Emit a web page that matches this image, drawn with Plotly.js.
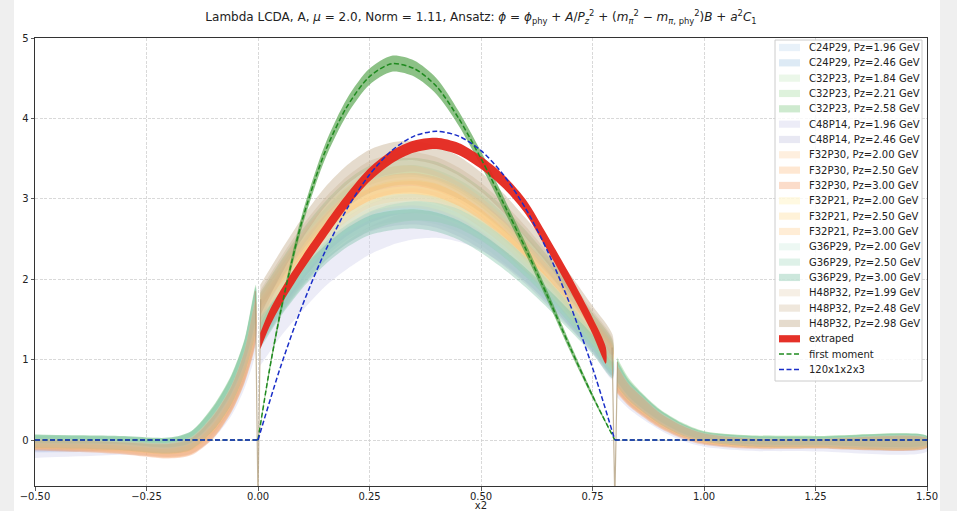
<!DOCTYPE html>
<html><head><meta charset="utf-8">
<script src="https://cdn.plot.ly/plotly-3.0.1.min.js"></script>
<style>
html,body{margin:0;padding:0;background:#efefef;}
#chart{position:absolute;left:14px;top:0;width:926px;height:511px;background:#fff;}
</style>
</head><body><div id="chart"></div>
<script>
// ---------------- data ----------------
// shared x grid for the lattice bands: left tail | physical region | right tail
const xGrid = [-0.5,-0.4,-0.3,-0.2,-0.15,-0.1,-0.06,-0.03,-0.005,
  0.005,0.05,0.1,0.15,0.2,0.25,0.3,0.35,0.4,0.45,0.5,0.55,0.6,0.65,0.7,0.75,0.795,
  0.805,0.83,0.86,0.9,0.95,1.0,1.1,1.25,1.5];
const bandHalfWidth = [0.05,0.05,0.05,0.06,0.07,0.09,0.11,0.14,0.19,
  0.19,0.15,0.13,0.12,0.12,0.12,0.12,0.12,0.12,0.12,0.12,0.12,0.12,0.12,0.12,0.12,0.13,
  0.13,0.10,0.09,0.07,0.06,0.05,0.05,0.05,0.05];

const bandLabels = ["C24P29, Pz=1.96 GeV","C24P29, Pz=2.46 GeV","C32P23, Pz=1.84 GeV","C32P23, Pz=2.21 GeV",
  "C32P23, Pz=2.58 GeV","C48P14, Pz=1.96 GeV","C48P14, Pz=2.46 GeV","F32P30, Pz=2.00 GeV","F32P30, Pz=2.50 GeV",
  "F32P30, Pz=3.00 GeV","F32P21, Pz=2.00 GeV","F32P21, Pz=2.50 GeV","F32P21, Pz=3.00 GeV","G36P29, Pz=2.00 GeV",
  "G36P29, Pz=2.50 GeV","G36P29, Pz=3.00 GeV","H48P32, Pz=1.99 GeV","H48P32, Pz=2.48 GeV","H48P32, Pz=2.98 GeV"];
const bandWidthScale = [1,1,1,1,1,1.45,1,1,1,1,1,1,1,1,1,1,1,1,1];

const band_C24P29_196 = [-0.11,-0.1,-0.09,-0.11,-0.06,0.16,0.48,0.88,1.42, 1.38,1.74,2.09,2.39,2.61,2.76,2.83,2.85,2.80,2.70,2.54,2.33,2.09,1.82,1.53,1.23,0.93, 0.74,0.55,0.41,0.24,0.09,0.0,-0.05,-0.06,-0.05];
const band_C24P29_246 = [-0.09,-0.08,-0.07,-0.09,-0.04,0.2,0.52,0.92,1.48, 1.40,1.76,2.12,2.43,2.66,2.82,2.91,2.94,2.91,2.82,2.66,2.45,2.20,1.92,1.61,1.29,0.98, 0.77,0.57,0.43,0.26,0.11,0.02,-0.03,-0.04,-0.04];
const band_C32P23_184 = [0.0,-0.01,-0.02,-0.05,0.02,0.3,0.66,1.08,1.68, 1.53,1.92,2.31,2.64,2.89,3.05,3.13,3.15,3.10,2.98,2.81,2.58,2.31,2.02,1.69,1.36,1.03, 0.85,0.64,0.48,0.3,0.14,0.05,0.0,-0.01,-0.01];
const band_C32P23_221 = [0.01,0.0,-0.01,-0.04,0.03,0.32,0.68,1.1,1.7, 1.60,2.01,2.42,2.76,3.02,3.19,3.28,3.30,3.24,3.12,2.94,2.70,2.42,2.11,1.77,1.42,1.08, 0.87,0.66,0.49,0.31,0.15,0.06,0.01,0.0,0.0];
const band_C32P23_258 = [0.02,0.01,0.0,-0.03,0.04,0.34,0.7,1.12,1.74, 1.64,2.07,2.49,2.84,3.11,3.29,3.37,3.39,3.34,3.21,3.02,2.78,2.49,2.17,1.82,1.46,1.11, 0.9,0.68,0.5,0.32,0.16,0.06,0.01,0.0,0.0];
const band_C48P14_196 = [-0.15,-0.13,-0.11,-0.12,-0.07,0.15,0.46,0.85,1.38, 1.2,1.5,1.8,2.08,2.3,2.48,2.6,2.67,2.69,2.64,2.53,2.36,2.14,1.88,1.58,1.26,0.94, 0.72,0.54,0.4,0.23,0.08,-0.01,-0.06,-0.07,-0.07];
const band_C48P14_246 = [-0.1,-0.09,-0.08,-0.1,-0.05,0.18,0.5,0.9,1.45, 1.36,1.71,2.06,2.35,2.56,2.71,2.78,2.80,2.76,2.65,2.49,2.29,2.06,1.79,1.51,1.21,0.92, 0.75,0.56,0.42,0.25,0.1,0.01,-0.04,-0.05,-0.05];
const band_F32P30_200 = [-0.06,-0.08,-0.11,-0.15,-0.1,0.13,0.47,0.87,1.44, 1.46,1.83,2.21,2.52,2.75,2.91,2.99,3.01,2.96,2.85,2.68,2.46,2.21,1.93,1.62,1.30,0.99, 0.73,0.55,0.41,0.24,0.1,0.01,-0.04,-0.05,-0.04];
const band_F32P30_250 = [-0.07,-0.09,-0.12,-0.16,-0.11,0.12,0.46,0.86,1.42, 1.50,1.89,2.28,2.60,2.84,3.01,3.08,3.10,3.06,2.94,2.76,2.54,2.28,1.99,1.67,1.34,1.02, 0.72,0.54,0.4,0.23,0.09,0.0,-0.05,-0.05,-0.04];
const band_F32P30_300 = [-0.08,-0.1,-0.13,-0.17,-0.12,0.11,0.45,0.85,1.4, 1.55,1.95,2.35,2.68,2.93,3.10,3.18,3.20,3.15,3.03,2.85,2.62,2.35,2.05,1.72,1.38,1.05, 0.71,0.53,0.39,0.22,0.08,-0.01,-0.06,-0.06,-0.05];
const band_F32P21_200 = [-0.04,-0.05,-0.07,-0.1,-0.04,0.22,0.56,0.98,1.55, 1.47,1.85,2.23,2.55,2.78,2.95,3.02,3.04,2.99,2.88,2.71,2.49,2.23,1.95,1.63,1.31,1.00, 0.8,0.6,0.45,0.27,0.12,0.03,-0.03,-0.04,-0.03];
const band_F32P21_250 = [-0.05,-0.06,-0.08,-0.11,-0.05,0.2,0.54,0.96,1.53, 1.58,1.98,2.38,2.70,2.94,3.10,3.17,3.18,3.12,3.00,2.82,2.60,2.33,2.04,1.71,1.37,1.04, 0.79,0.59,0.44,0.26,0.11,0.02,-0.04,-0.04,-0.03];
const band_F32P21_300 = [-0.06,-0.07,-0.09,-0.12,-0.06,0.19,0.53,0.95,1.52, 1.62,2.04,2.45,2.79,3.04,3.20,3.28,3.29,3.22,3.09,2.90,2.66,2.38,2.08,1.75,1.40,1.06, 0.78,0.58,0.43,0.26,0.11,0.02,-0.04,-0.05,-0.04];
const band_G36P29_200 = [0.0,-0.01,-0.02,-0.05,0.02,0.29,0.65,1.07,1.66, 1.43,1.79,2.16,2.47,2.70,2.85,2.93,2.94,2.90,2.79,2.62,2.41,2.16,1.89,1.58,1.27,0.97, 0.84,0.63,0.47,0.29,0.13,0.04,-0.01,-0.02,-0.01];
const band_G36P29_250 = [0.01,0.0,-0.01,-0.04,0.03,0.31,0.67,1.09,1.69, 1.36,1.70,2.04,2.34,2.56,2.72,2.81,2.85,2.83,2.75,2.60,2.40,2.15,1.87,1.56,1.25,0.94, 0.85,0.64,0.48,0.3,0.14,0.05,0.0,-0.01,-0.01];
const band_G36P29_300 = [0.02,0.01,0.0,-0.03,0.04,0.33,0.69,1.11,1.72, 1.33,1.68,2.02,2.30,2.52,2.67,2.73,2.75,2.71,2.61,2.45,2.25,2.02,1.76,1.48,1.19,0.90, 0.86,0.65,0.49,0.31,0.15,0.05,0.0,-0.01,0.0];
const band_H48P32_199 = [-0.03,-0.04,-0.06,-0.09,-0.03,0.23,0.57,0.99,1.57, 1.63,2.05,2.47,2.81,3.08,3.26,3.34,3.36,3.31,3.18,2.99,2.75,2.47,2.15,1.81,1.45,1.10, 0.81,0.61,0.46,0.28,0.13,0.04,-0.02,-0.03,-0.02];
const band_H48P32_248 = [-0.04,-0.05,-0.07,-0.1,-0.04,0.22,0.56,0.98,1.56, 1.67,2.11,2.54,2.89,3.16,3.35,3.43,3.46,3.40,3.27,3.08,2.83,2.54,2.21,1.86,1.49,1.13, 0.8,0.6,0.45,0.27,0.12,0.03,-0.03,-0.04,-0.03];
const band_H48P32_298 = [-0.05,-0.06,-0.08,-0.11,-0.05,0.21,0.55,0.97,1.55, 1.74,2.19,2.64,3.02,3.30,3.49,3.58,3.60,3.54,3.41,3.21,2.95,2.64,2.31,1.94,1.55,1.18, 0.8,0.6,0.45,0.27,0.12,0.03,-0.03,-0.04,-0.03];

const bandCenters = [band_C24P29_196,band_C24P29_246,band_C32P23_184,band_C32P23_221,band_C32P23_258,
  band_C48P14_196,band_C48P14_246,band_F32P30_200,band_F32P30_250,band_F32P30_300,band_F32P21_200,
  band_F32P21_250,band_F32P21_300,band_G36P29_200,band_G36P29_250,band_G36P29_300,band_H48P32_199,
  band_H48P32_248,band_H48P32_298];

// divergent points of the lattice data at x2 = 0 and x2 = 0.8
const spikeX = [-0.006, 0, 0.006, null, 0.794, 0.8, 0.806];
const spikeY = [1.85, -0.75, 1.75, null, 1.15, -0.75, 0.97];

// extrapolated result
const xExtrap = [0.005,0.025,0.05,0.1,0.15,0.2,0.25,0.3,0.35,0.4,0.45,0.5,0.55,0.6,0.65,0.7,0.75,0.78];
const extrapCenter = [1.23,1.5,1.76,2.2,2.6,2.98,3.3,3.52,3.65,3.69,3.62,3.45,3.22,2.9,2.44,1.95,1.42,1.05];
const extrapHalfWidth = [0.1,0.1,0.095,0.09,0.09,0.085,0.085,0.08,0.075,0.07,0.075,0.08,0.085,0.09,0.09,0.095,0.1,0.1];

// first moment curve and its band
const xMoment = [0,0.025,0.05,0.075,0.1,0.15,0.2,0.25,0.3,0.35,0.4,0.45,0.5,0.55,0.6,0.65,0.7,0.75,0.8];
const momentValues = [0,0.85,1.58,2.2,2.75,3.58,4.15,4.52,4.68,4.62,4.40,4.00,3.50,2.95,2.38,1.78,1.15,0.55,0];
const momentHalfWidth = [0,0.04,0.06,0.07,0.08,0.09,0.1,0.1,0.1,0.1,0.1,0.09,0.09,0.08,0.07,0.06,0.05,0.03,0];

// 120 x1 x2 x3 model
const xModel = [0,0.05,0.1,0.15,0.2,0.25,0.3,0.35,0.4,0.45,0.5,0.55,0.6,0.65,0.7,0.75,0.8];
const modelValues = [0,0.9,1.68,2.34,2.88,3.3,3.6,3.78,3.84,3.78,3.6,3.3,2.88,2.34,1.68,0.9,0];

// outside the physical region both curves are zero
const zeroX = [-0.5, 0, null, 0.8, 1.5];
const zeroY = [0, 0, null, 0, 0];

// ---------------- styles ----------------
const bandFill = ["rgba(189,215,238,0.35)","rgba(158,196,225,0.35)","rgba(199,233,192,0.35)","rgba(161,217,155,0.35)",
  "rgba(116,196,118,0.35)","rgba(212,212,238,0.45)","rgba(188,189,220,0.35)","rgba(253,208,162,0.35)",
  "rgba(253,174,107,0.3)","rgba(241,140,80,0.3)","rgba(255,237,170,0.35)","rgba(254,217,142,0.35)",
  "rgba(254,196,120,0.3)","rgba(204,236,220,0.35)","rgba(160,215,190,0.35)","rgba(110,185,155,0.35)",
  "rgba(230,210,180,0.35)","rgba(210,185,155,0.35)","rgba(190,165,130,0.4)"];
const RED = "rgba(228,38,28,0.95)";
const GREEN = "#1f8a1f";
const BLUE = "#1a2ec8";
const FONT = "DejaVu Sans, Liberation Sans, sans-serif";

// ---------------- build traces ----------------
const segments = [[0,9],[9,26],[26,35]];
function bandPolygon(center, scale){
  const xs=[], ys=[];
  segments.forEach(([a,b],k)=>{
    if(k>0){xs.push(null);ys.push(null);}
    for(let i=a;i<b;i++){xs.push(xGrid[i]);ys.push(center[i]+bandHalfWidth[i]*scale);}
    for(let i=b-1;i>=a;i--){xs.push(xGrid[i]);ys.push(center[i]-bandHalfWidth[i]*scale);}
  });
  return {xs,ys};
}
function simplePolygon(x, c, hw){
  const xs=[], ys=[];
  for(let i=0;i<x.length;i++){xs.push(x[i]);ys.push(c[i]+hw[i]);}
  for(let i=x.length-1;i>=0;i--){xs.push(x[i]);ys.push(c[i]-hw[i]);}
  return {xs,ys};
}

const traces = [];
bandCenters.forEach((c,i)=>{
  const p = bandPolygon(c, bandWidthScale[i]);
  traces.push({type:'scatter',mode:'lines',x:p.xs,y:p.ys,fill:'toself',fillcolor:bandFill[i],
    line:{width:0,shape:'spline',smoothing:0.8},name:bandLabels[i],hoverinfo:'skip',showlegend:false});
});
traces.push({type:'scatter',mode:'lines',x:spikeX,y:spikeY,line:{color:'rgba(175,155,120,0.75)',width:1.2},
  hoverinfo:'skip',showlegend:false});
{
  const p = simplePolygon(xMoment, momentValues, momentHalfWidth);
  traces.push({type:'scatter',mode:'lines',x:p.xs,y:p.ys,fill:'toself',fillcolor:'rgba(70,155,60,0.62)',
    line:{width:0,shape:'spline',smoothing:0.8},hoverinfo:'skip',showlegend:false});
}
{
  const p = simplePolygon(xExtrap, extrapCenter, extrapHalfWidth);
  traces.push({type:'scatter',mode:'lines',x:p.xs,y:p.ys,fill:'toself',fillcolor:RED,
    line:{width:0,shape:'spline',smoothing:0.8},name:'extraped',hoverinfo:'skip',showlegend:false});
}
traces.push({type:'scatter',mode:'lines',x:xMoment,y:momentValues,line:{color:GREEN,width:1.5,dash:'5px,2.5px',shape:'spline',smoothing:0.8},
  name:'first moment',hoverinfo:'skip',showlegend:false});
traces.push({type:'scatter',mode:'lines',x:zeroX,y:zeroY,line:{color:GREEN,width:1.5,dash:'5px,2.5px'},hoverinfo:'skip',showlegend:false});
traces.push({type:'scatter',mode:'lines',x:xModel,y:modelValues,line:{color:BLUE,width:1.5,dash:'5px,2.5px',shape:'spline',smoothing:0.8},
  name:'120x1x2x3',hoverinfo:'skip',showlegend:false});
traces.push({type:'scatter',mode:'lines',x:zeroX,y:zeroY,line:{color:BLUE,width:1.5,dash:'5px,2.5px'},hoverinfo:'skip',showlegend:false});

// ---------------- legend (matplotlib style, drawn in paper coords) ----------------
const PL=35, PR=927, PT=38, PB=486;
const px2x = p => (p-PL)/(PR-PL);
const px2y = p => (PB-p)/(PB-PT);
const shapes = [];
const annotations = [];
shapes.push({type:'rect',xref:'paper',yref:'paper',x0:px2x(775),x1:px2x(922),y0:px2y(381),y1:px2y(40),
  line:{color:'#cccccc',width:1},fillcolor:'rgba(255,255,255,0.82)',layer:'above'});
const legendLabels = bandLabels.concat(['extraped','first moment','120x1x2x3']);
const legendKinds = bandFill.map(c=>({kind:'patch',color:c})).concat([
  {kind:'patch',color:RED},{kind:'line',color:GREEN},{kind:'line',color:BLUE}]);
legendLabels.forEach((lab,i)=>{
  const yc = 47.5 + 15.33*i;
  const k = legendKinds[i];
  if(k.kind==='patch'){
    shapes.push({type:'rect',xref:'paper',yref:'paper',x0:px2x(779),x1:px2x(800),y0:px2y(yc+3.6),y1:px2y(yc-3.6),
      line:{width:0},fillcolor:k.color,layer:'above'});
  } else {
    shapes.push({type:'line',xref:'paper',yref:'paper',x0:px2x(779),x1:px2x(800),y0:px2y(yc),y1:px2y(yc),
      line:{color:k.color,width:1.5,dash:'5px,2.5px'},layer:'above'});
  }
  annotations.push({xref:'paper',yref:'paper',x:px2x(807),y:px2y(yc),xanchor:'left',yanchor:'middle',
    text:lab,showarrow:false,font:{family:FONT,size:10,color:'#222'}});
});

const titleText = "Lambda LCDA, A, <i>μ</i> = 2.0, Norm = 1.11, Ansatz: <i>ϕ</i> = <i>ϕ</i><sub>phy</sub> + <i>A</i>/<i>P</i><sub><i>z</i></sub><sup>2</sup> + (<i>m</i><sub><i>π</i></sub><sup>2</sup> − <i>m</i><sub><i>π</i>, phy</sub><sup>2</sup>)<i>B</i> + <i>a</i><sup>2</sup><i>C</i><sub>1</sub>";

const layout = {
  width:926, height:511,
  margin:{l:21,r:13,t:38,b:25},
  paper_bgcolor:'#ffffff', plot_bgcolor:'#ffffff',
  font:{family:FONT,size:10,color:'#222'},
  showlegend:false,
  title:{text:titleText,x:0.5,xref:'paper',xanchor:'center',y:1-17/511,yanchor:'middle',font:{family:FONT,size:12,color:'#222'}},
  xaxis:{range:[-0.5,1.5],tick0:-0.5,dtick:0.25,tickformat:'.2f',ticks:'outside',ticklen:3.5,tickwidth:0.8,tickcolor:'#333',
    ticklabelstandoff:-3,
    showline:true,mirror:true,linecolor:'#333',linewidth:1,showgrid:true,gridcolor:'#cfcfcf',gridwidth:0.8,griddash:'3px,1.5px',
    zeroline:false,title:{text:'x2',standoff:5,font:{family:FONT,size:10,color:'#222'}},automargin:false,
    tickfont:{family:FONT,size:10,color:'#222'}},
  yaxis:{range:[-0.572,5],tick0:0,dtick:1,ticks:'outside',ticklen:3.5,tickwidth:0.8,tickcolor:'#333',
    showline:true,mirror:true,linecolor:'#333',linewidth:1,showgrid:true,gridcolor:'#cfcfcf',gridwidth:0.8,griddash:'3px,1.5px',
    zeroline:false,automargin:false,tickfont:{family:FONT,size:10,color:'#222'}},
  shapes:shapes,
  annotations:annotations
};
Plotly.newPlot('chart',traces,layout,{staticPlot:true,displayModeBar:false});
</script>
</body></html>
